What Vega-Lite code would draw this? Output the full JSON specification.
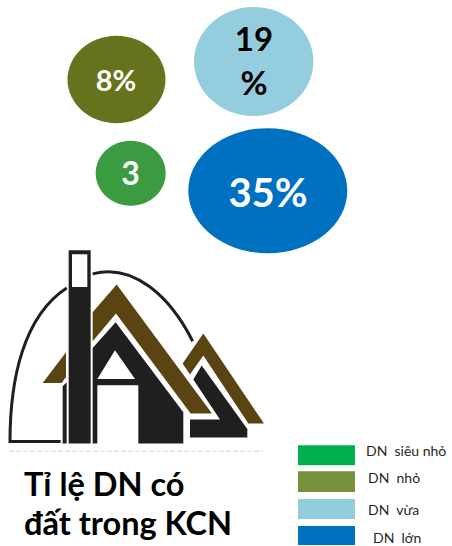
{
"$schema":"https://vega.github.io/schema/vega-lite/v6.json",
"width":452,"height":546,"padding":0,
"autosize":{"type":"fit","contains":"padding"},
"background":"white",
"view":{"stroke":null},
"datasets":{
"bubbles":[
{"cls":"DN siêu nhỏ","label":"3","x":130.7,"y":173.5,"tx":130.5,"ty":175},
{"cls":"DN nhỏ","label":"8%","x":116.5,"y":79.7,"tx":116,"ty":82},
{"cls":"DN vừa","label":"19\n%","x":253.7,"y":61.5,"tx":254,"ty":41},
{"cls":"DN lớn","label":"35%","x":267.8,"y":191,"tx":268,"ty":195}
],
"legend":[
{"cls":"DN siêu nhỏ","name":"DN\u00a0\u00a0siêu nhỏ","x":298,"x2":355,"y":446,"y2":466,"tx":366,"ty":453},
{"cls":"DN nhỏ","name":"DN\u00a0\u00a0nhỏ","x":298,"x2":355,"y":472,"y2":493,"tx":368,"ty":480},
{"cls":"DN vừa","name":"DN\u00a0\u00a0vừa","x":298,"x2":355,"y":500,"y2":520,"tx":368,"ty":512},
{"cls":"DN lớn","name":"DN\u00a0\u00a0lớn","x":298,"x2":355,"y":527,"y2":546,"tx":373,"ty":540}
],
"title":[{"line":"Tỉ lệ DN có","x":24,"y":497},{"line":"đất trong KCN","x":24,"y":536}],
"logo":[{"x":0,"y":240}],
"sep":[{"x":9,"x2":263,"y":452}]
},
"encoding":{
"x":{"field":"x","type":"quantitative","axis":null,"scale":{"domain":[0,452],"nice":false,"zero":false}},
"y":{"field":"y","type":"quantitative","axis":null,"scale":{"domain":[546,0],"nice":false,"zero":false}}
},
"layer":[
{"data":{"name":"bubbles"},
"mark":{"type":"point","filled":true,"opacity":1,"size":4,"strokeWidth":0},
"encoding":{
"fill":{"field":"cls","type":"nominal","legend":null,"scale":{"domain":["DN siêu nhỏ","DN nhỏ","DN vừa","DN lớn"],"range":["#3a9b40","#66731c","#94cddd","#0070c0"]}},
"shape":{"field":"cls","type":"nominal","legend":null,"scale":{"domain":["DN siêu nhỏ","DN nhỏ","DN vừa","DN lớn"],"range":[
"M -35 0 A 35 32.5 0 1 1 35 0 A 35 32.5 0 1 1 -35 0 Z",
"M -49 0 A 49 43.7 0 1 1 49 0 A 49 43.7 0 1 1 -49 0 Z",
"M -59.7 0 A 59.7 54.5 0 1 1 59.7 0 A 59.7 54.5 0 1 1 -59.7 0 Z",
"M -79.5 0 A 79.5 62.5 0 1 1 79.5 0 A 79.5 62.5 0 1 1 -79.5 0 Z"]}}
}},
{"data":{"name":"bubbles"},
"mark":{"type":"text","font":"Lato","fontWeight":"bold","align":"center","baseline":"middle","lineBreak":"\n","lineHeight":44,"stroke":null},
"encoding":{
"x":{"field":"tx","type":"quantitative"},
"y":{"field":"ty","type":"quantitative"},
"text":{"field":"label"},
"color":{"condition":{"test":"datum.cls==='DN vừa'","value":"#000000"},"value":"#ffffff"},
"size":{"condition":[{"test":"datum.cls==='DN lớn'","value":40},{"test":"datum.cls==='DN vừa'","value":33},{"test":"datum.cls==='DN siêu nhỏ'","value":32}],"value":29}
}},
{"data":{"name":"logo"},
"mark":{"type":"point","filled":true,"opacity":1,"size":0.4444,"strokeWidth":0,"fill":"#1f1f1f","shape":"M 206 32 L 272 32 L 272 612 L 206 612 Z M 216 44 L 216 142 L 262 142 L 262 44 Z M 278 325 L 347 248 L 550 518 L 550 612 L 415 612 L 415 437 L 292 437 L 292 612 L 278 612 Z M 345 332 L 292 418 L 405 418 Z M 188 440 L 200 428 L 200 612 L 188 612 Z M 570 540 L 660 540 L 580 420 L 605 378 L 742 568 L 742 594 L 570 594 Z"}},
{"data":{"name":"logo"},
"mark":{"type":"point","filled":true,"opacity":1,"size":0.4444,"strokeWidth":0,"fill":"#5a4412","shape":"M 278 218 L 350 135 L 636 522 L 572 522 L 348 222 L 278 305 Z M 128 430 L 198 338 L 198 412 L 185 430 Z M 548 372 L 610 282 L 792 552 L 745 552 L 610 348 L 570 405 Z"}},
{"data":{"name":"logo"},
"mark":{"type":"point","filled":false,"opacity":1,"size":0.4444,"stroke":"#1f1f1f","strokeWidth":3,"fill":"transparent","shape":"M 182 606 L 30 606 C 30 420 70 230 200 145 M 278 103 C 400 70 510 170 578 305"}},
{"data":{"name":"sep"},
"mark":{"type":"rule","color":"#d4d4d4","strokeWidth":1,"strokeDash":[5,2]},
"encoding":{"x2":{"field":"x2"}}},
{"data":{"name":"title"},
"mark":{"type":"text","font":"Lato","fontWeight":"bold","fontSize":32.5,"align":"left","baseline":"alphabetic","color":"#000000"},
"encoding":{"text":{"field":"line"}}},
{"data":{"name":"legend"},
"mark":{"type":"rect"},
"encoding":{
"x2":{"field":"x2"},"y2":{"field":"y2"},
"color":{"field":"cls","type":"nominal","legend":null,"scale":{"domain":["DN siêu nhỏ","DN nhỏ","DN vừa","DN lớn"],"range":["#00b050","#76923c","#92cddc","#0070c0"]}}
}},
{"data":{"name":"legend"},
"mark":{"type":"text","font":"Lato","fontSize":14,"align":"left","baseline":"middle","color":"#262626"},
"encoding":{"x":{"field":"tx","type":"quantitative"},"y":{"field":"ty","type":"quantitative"},"text":{"field":"name"}}}
]
}
